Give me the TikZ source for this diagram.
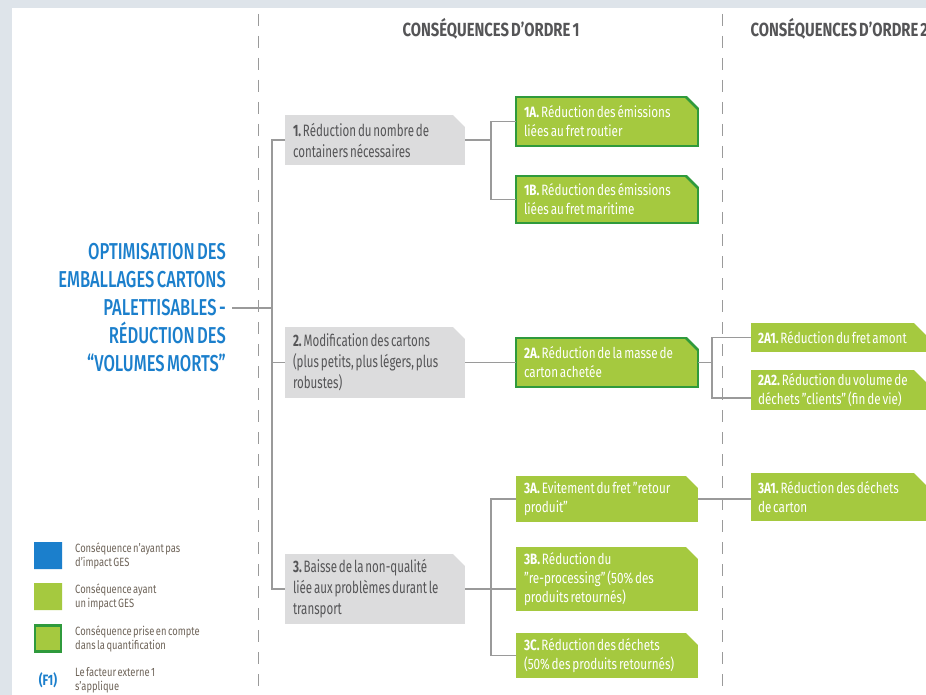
\documentclass[tikz,border=0pt]{standalone}
\usepackage{fontspec}
\setmainfont[FakeStretch=0.78, WordSpace=0.6]{Fira Sans}
\newfontfamily\grisfont[FakeStretch=0.7, WordSpace=0.6]{Fira Sans}
\newfontfamily\titrefont[FakeStretch=0.72, WordSpace=0.6]{Fira Sans Medium}
\usepackage{tikz}
\usetikzlibrary{shapes.misc}
\definecolor{cadre}{HTML}{DEE4EA}
\definecolor{bleu}{HTML}{1B7FCC}
\definecolor{vert}{HTML}{A5C93F}
\definecolor{vertfonce}{HTML}{2F9A3C}
\definecolor{grisbox}{HTML}{DCDCDD}
\definecolor{gristexte}{HTML}{555557}
\definecolor{trait}{HTML}{9A9A9A}
\definecolor{legtxt}{HTML}{6E6459}
\frenchspacing

\begin{document}
\begin{tikzpicture}[x=1pt,y=-1pt,
                    boite/.style={rectangle, inner xsep=8pt, inner ysep=0pt, outer sep=0pt, align=flush left},
                    gris/.style={boite, fill=grisbox, text=gristexte, text width=164pt,
                                 font=\grisfont\fontsize{16.5}{21}\selectfont},
                    vertbox/.style={boite, fill=vert, text=white, text width=166pt,
                                    font=\fontsize{15}{19}\selectfont},
                    quantif/.style={vertbox, draw=vertfonce, line width=2.5pt},
                    droite/.style={boite, fill=vert, text=white, text width=161pt, inner xsep=7pt,
                                   font=\fontsize{15}{19}\selectfont},
                    titre/.style={align=right, text=bleu, inner xsep=6pt, inner ysep=0pt,
                                  font=\fontsize{23}{28}\titrefont},
                    entete/.style={text=gristexte, font=\fontsize{19}{24}\selectfont\bfseries},
                    legende/.style={shape=chamfered rectangle, chamfered rectangle corners=north east,
                                    chamfered rectangle xsep=7pt, chamfered rectangle ysep=7pt,
                                    inner sep=0pt, minimum width=28pt, minimum height=27pt},
                    legtexte/.style={align=left, text=legtxt, inner sep=0pt,
                                     font=\fontsize{12}{14}\selectfont},
                    lien/.style={draw=trait, line width=1.1pt},
                    pointille/.style={draw=trait, line width=0.9pt, dash pattern=on 12pt off 10pt}]

                    \useasboundingbox (0,0) rectangle (926,695);
                    \fill[cadre] (0,0) rectangle (926,695);
                    \fill[white] (12,8) rectangle (926,695);

                    \draw[pointille] (258,14) -- (258,695);
                    \draw[pointille] (722,14) -- (722,695);

                    \node[entete] (ordre1) at (491,29) {CONSÉQUENCES D'ORDRE 1};
                    \node[entete, anchor=west] (ordre2) at (747,29) {CONSÉQUENCES D'ORDRE 2};

                    \node[titre, anchor=east] (titre) at (232,308) {OPTIMISATION DES\\EMBALLAGES CARTONS\\PALETTISABLES -\\RÉDUCTION DES\\“VOLUMES MORTS”};

                    \node[gris, minimum height=50pt] (b1) at (375,140) {\textbf{1.} Réduction du nombre de\\containers nécessaires};
                    \node[gris, minimum height=71pt] (b2) at (375,362.5) {\textbf{2.} Modification des cartons\\(plus petits, plus légers, plus\\robustes)};
                    \node[gris, minimum height=70pt] (b3) at (375,589) {\textbf{3.} Baisse de la non-qualité\\liée aux problèmes durant le\\transport};

                    \node[quantif, minimum height=49pt] (b1a) at (607,121.5) {\textbf{1A.} Réduction des émissions\\liées au fret routier};
                    \node[quantif, minimum height=47pt] (b1b) at (607,199.5) {\textbf{1B.} Réduction des émissions\\liées au fret maritime};
                    \node[quantif, minimum height=49pt] (b2a) at (607,362.5) {\textbf{2A.} Réduction de la masse de\\carton achetée};
                    \node[vertbox, minimum height=46pt] (b3a) at (607,499) {\textbf{3A.} Evitement du fret "retour\\produit"};
                    \node[vertbox, minimum height=64pt] (b3b) at (607,579) {\textbf{3B.} Réduction du\\"re-processing" (50\% des\\produits retournés)};
                    \node[vertbox, minimum height=45pt] (b3c) at (607,655.5) {\textbf{3C.} Réduction des déchets\\(50\% des produits retournés)};

                    \node[droite, minimum height=29pt] (b2a1) at (838.5,337.5) {\textbf{2A1.} Réduction du fret amont};
                    \node[droite, minimum height=40pt] (b2a2) at (838.5,390) {\textbf{2A2.} Réduction du volume de\\déchets "clients" (fin de vie)};
                    \node[droite, minimum height=48pt] (b3a1) at (838.5,497) {\textbf{3A1.} Réduction des déchets\\de carton};

                    \foreach \b in {b1,b2,b3,b3a,b3b,b3c,b2a1,b2a2,b3a1,b1a,b1b,b2a}
                        \fill[white] ([xshift=-12pt]\b.north east) -- ([xshift=-12pt,yshift=4pt]\b.north east)
                                     -- ([xshift=4pt,yshift=4pt]\b.north east) -- ([xshift=4pt,yshift=-12pt]\b.north east)
                                     -- ([yshift=-12pt]\b.north east) -- cycle;
                    \foreach \b in {b1a,b1b,b2a}
                        \draw[vertfonce, line width=2.5pt, line cap=round] ([xshift=-12pt]\b.north east) -- ([yshift=-12pt]\b.north east);

                    \coordinate (depart) at (272,308);
                    \coordinate (noeud1) at (491,140);
                    \coordinate (noeud2) at (712,362.5);
                    \coordinate (noeud3) at (491,589);

                    \draw[lien] (titre.east) -- (depart);
                    \draw[lien] (b1.west) -| (depart) |- (b3.west);
                    \draw[lien] (depart |- b2.west) -- (b2.west);

                    \draw[lien] (b1.east) -- (noeud1);
                    \draw[lien] (b1a.west) -| (noeud1) |- (b1b.west);

                    \draw[lien] (b2.east) -- (b2a.west);
                    \draw[lien] (b2a.east) -- (noeud2);
                    \draw[lien] (b2a1.west) -| (noeud2) |- ([yshift=-8pt]b2a2.west);

                    \draw[lien] (b3.east) -- (noeud3);
                    \draw[lien] (b3a.west) -| (noeud3) |- (b3c.west);
                    \draw[lien] (noeud3) -- (noeud3 -| b3b.west);
                    \draw[lien] (b3a.east) -- (b3a.east -| b3a1.west);

                    \node[legende, fill=bleu] (l1) at (48,555.5) {};
                    \node[legende, fill=vert] (l2) at (48,596.5) {};
                    \node[legende, fill=vert, draw=vertfonce, line width=2.5pt, minimum width=26pt, minimum height=26pt] (l3) at (48,638.5) {};
                    \node[text=bleu, font=\fontsize{15}{17}\selectfont\bfseries] (l4) at (48,680) {(F1)};

                    \node[legtexte, anchor=west] (t1) at (75,555.5) {Conséquence n'ayant pas\\d'impact GES};
                    \node[legtexte, anchor=west] (t2) at (75,596.5) {Conséquence ayant\\un impact GES};
                    \node[legtexte, anchor=west] (t3) at (75,638.5) {Conséquence prise en compte\\dans la quantification};
                    \node[legtexte, anchor=west] (t4) at (75,680) {Le facteur externe 1\\s'applique};
                 \end{tikzpicture}
\end{document}
